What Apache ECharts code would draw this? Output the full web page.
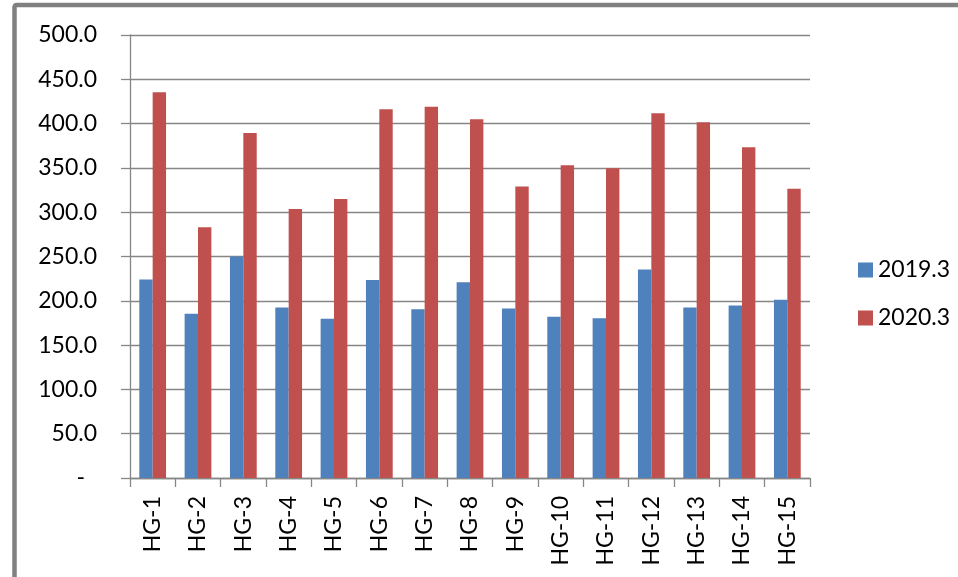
<!DOCTYPE html>
<html>
<head>
<meta charset="utf-8">
<script src="https://cdn.jsdelivr.net/npm/echarts@6/dist/echarts.min.js"></script>
<style>
  html, body { margin: 0; padding: 0; background: #ffffff; }
  #chart { width: 958px; height: 577px; }
</style>
</head>
<body>
<div id="chart"></div>
<script>
var categories = ['HG-1','HG-2','HG-3','HG-4','HG-5','HG-6','HG-7','HG-8','HG-9','HG-10','HG-11','HG-12','HG-13','HG-14','HG-15'];
var seriesNames = ['2019.3', '2020.3'];
var values2019 = [224.0, 185.3, 250.0, 192.4, 179.7, 223.6, 190.6, 221.0, 191.3, 181.9, 180.4, 235.3, 192.4, 194.7, 201.1];
var values2020 = [435.3, 283.1, 389.4, 303.7, 315.0, 416.1, 419.1, 404.9, 328.9, 353.0, 349.6, 411.6, 401.5, 373.3, 326.6];
var yTicks = { min: 0, max: 500, interval: 50 };

var FONT = 'Lato';
var chart = echarts.init(document.getElementById('chart'), null, { renderer: 'canvas' });
var option = {
  animation: false,
  backgroundColor: '#ffffff',
  textStyle: { fontFamily: FONT },
  grid: { left: 130, right: 148, top: 35, bottom: 99, containLabel: false },
  legend: {
    orient: 'vertical',
    left: 853,
    top: 253,
    itemWidth: 15,
    itemHeight: 15,
    itemGap: 24,
    icon: 'rect',
    data: seriesNames,
    textStyle: { fontFamily: FONT, fontSize: 23, color: '#000000', lineHeight: 24 }
  },
  xAxis: {
    type: 'category',
    data: categories,
    axisLine: { lineStyle: { color: '#868686', width: 1.3 } },
    axisTick: { show: true, length: 9, alignWithLabel: false, lineStyle: { color: '#868686', width: 1.3 } },
    axisLabel: { rotate: 90, margin: 18, fontFamily: FONT, fontSize: 23, color: '#000000', interval: 0 },
    splitLine: { show: false }
  },
  yAxis: {
    type: 'value',
    min: yTicks.min,
    max: yTicks.max,
    interval: yTicks.interval,
    axisLine: { show: true, lineStyle: { color: '#868686', width: 1.3 } },
    axisTick: { show: true, length: 9, lineStyle: { color: '#868686', width: 1.3 } },
    splitLine: { show: true, lineStyle: { color: '#868686', width: 1.3 } },
    axisLabel: {
      margin: 33,
      fontFamily: FONT,
      fontSize: 23,
      color: '#000000',
      formatter: function (v) { return v === 0 ? '{d|-}' : v.toFixed(1); },
      rich: { d: { fontFamily: FONT, fontSize: 23, color: '#000000', padding: [0, 12, 0, 0] } }
    }
  },
  series: [
    {
      name: seriesNames[0],
      type: 'bar',
      data: values2019,
      barGap: '0%',
      barCategoryGap: '41%',
      itemStyle: { color: '#4F81BD' }
    },
    {
      name: seriesNames[1],
      type: 'bar',
      data: values2020,
      barGap: '0%',
      barCategoryGap: '41%',
      itemStyle: { color: '#C0504D' }
    }
  ],
  graphic: [
    {
      type: 'rect',
      silent: true,
      shape: { x: 14.5, y: 5, width: 2000, height: 2000, r: 2 },
      style: { fill: 'none', stroke: '#808080', lineWidth: 4.5 }
    }
  ]
};
chart.setOption(option);
</script>
</body>
</html>
